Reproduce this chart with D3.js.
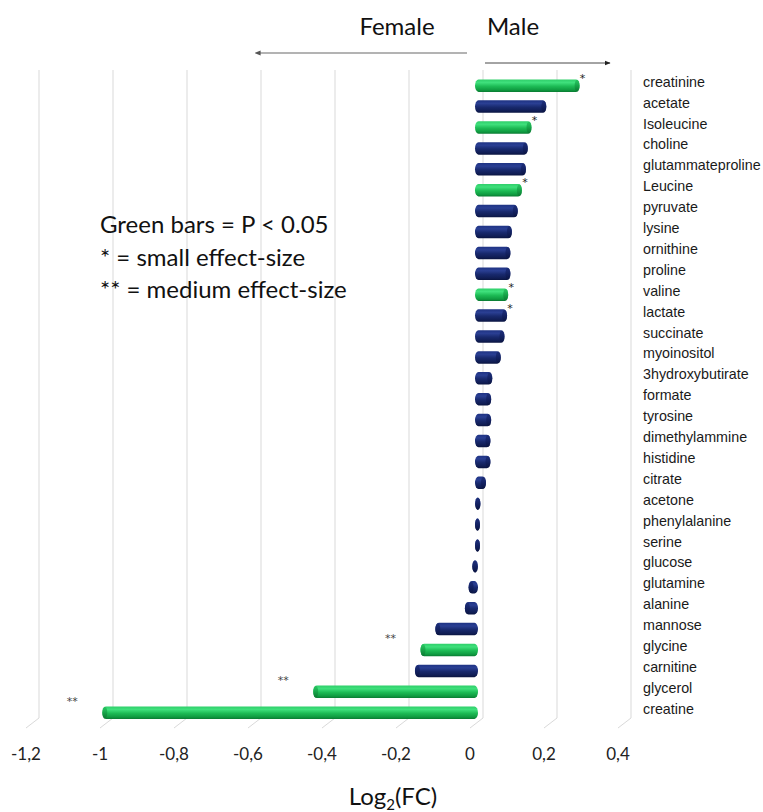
<!DOCTYPE html>
<html>
<head>
<meta charset="utf-8">
<script src="https://cdn.jsdelivr.net/npm/d3@7"></script>
<style>
  html, body { margin: 0; padding: 0; background: #fff; }
  svg { display: block; }
</style>
</head>
<body>
<svg id="chart" width="763" height="812"></svg>
<script>
// Metabolites, ordered from highest to lowest log2 fold change (male vs female)
const categories = [
  "creatinine", "acetate", "Isoleucine", "choline", "glutammateproline",
  "Leucine", "pyruvate", "lysine", "ornithine", "proline", "valine",
  "lactate", "succinate", "myoinositol", "3hydroxybutirate", "formate",
  "tyrosine", "dimethylammine", "histidine", "citrate", "acetone",
  "phenylalanine", "serine", "glucose", "glutamine", "alanine",
  "mannose", "glycine", "carnitine", "glycerol", "creatine"
];
const log2fc = [
  0.28, 0.19, 0.15, 0.14, 0.135,
  0.124, 0.113, 0.097, 0.093, 0.093, 0.087,
  0.084, 0.077, 0.067, 0.044, 0.041,
  0.041, 0.039, 0.039, 0.027, 0.012,
  0.006, 0.003, -0.01, -0.02, -0.03,
  -0.11, -0.15, -0.165, -0.44, -1.01
];
// P < 0.05
const significant = [
  "creatinine", "Isoleucine", "Leucine", "valine", "glycine", "glycerol", "creatine"
];
// Effect-size markers
const effectSize = [
  "*", "", "*", "", "",
  "*", "", "", "", "", "*",
  "*", "", "", "", "",
  "", "", "", "", "",
  "", "", "", "", "",
  "", "**", "", "**", "**"
];
const tickValues = [-1.2, -1, -0.8, -0.6, -0.4, -0.2, 0, 0.2, 0.4];
const legendLines = ["Green bars = P < 0.05", "* = small effect-size", "** = medium effect-size"];

const svg = d3.select("#chart");
const domain = [-1.2, 0.4];

// Three depth planes of the 3D chart: front edge (labels), bar plane, back wall (gridlines)
const xFront = d3.scaleLinear().domain(domain).range([26, 618]);
const xBar   = d3.scaleLinear().domain(domain).range([32, 624]);
const xBack  = d3.scaleLinear().domain(domain).range([39, 631]);
const y = d3.scalePoint().domain(categories).range([85.7, 712.7]);

const wallTop = 70, wallBottom = 718, floorFront = 728;

// Gradients for cylinder-like bars
const defs = svg.append("defs");
function cylinder(id, stops) {
  const g = defs.append("linearGradient").attr("id", id)
    .attr("x1", 0).attr("y1", 0).attr("x2", 0).attr("y2", 1);
  stops.forEach(([o, c]) => g.append("stop").attr("offset", o).attr("stop-color", c));
}
cylinder("gGreen", [[0, "#2fcf6a"], [0.25, "#3fe07c"], [0.55, "#1dbb55"], [0.85, "#0f9a40"], [1, "#0a7a32"]]);
cylinder("gNavy",  [[0, "#1f3384"], [0.25, "#2a3f93"], [0.55, "#18296d"], [0.85, "#101d54"], [1, "#0a1440"]]);
cylinder("gGreenCap", [[0, "#25c25e"], [0.5, "#159f45"], [1, "#0b7531"]]);
cylinder("gNavyCap",  [[0, "#1a2b74"], [0.5, "#122060"], [1, "#0a1440"]]);

// Back wall gridlines and floor diagonals
const grid = svg.append("g");
tickValues.forEach(t => {
  grid.append("line")
    .attr("x1", xBack(t)).attr("x2", xBack(t))
    .attr("y1", wallTop).attr("y2", wallBottom)
    .attr("stroke", "#d9d9d9").attr("stroke-width", 1);
  grid.append("line")
    .attr("x1", xBack(t)).attr("y1", wallBottom)
    .attr("x2", xFront(t)).attr("y2", floorFront)
    .attr("stroke", "#d9d9d9").attr("stroke-width", 1);
});

// Tick labels (decimal comma)
const fmt = v => (Math.round(v * 10) / 10).toString().replace(".", ",");
svg.append("g").selectAll("text").data(tickValues).join("text")
  .attr("x", d => xFront(d)).attr("y", 760)
  .attr("text-anchor", "middle")
  .attr("font-family", "Lato, 'Open Sans', sans-serif")
  .attr("font-size", 17).attr("fill", "#222")
  .text(fmt);

// Bars
const barH = 12.5;
const rows = categories.map((c, i) => ({
  name: c, v: log2fc[i], eff: effectSize[i], sig: significant.includes(c)
}));
const bars = svg.append("g");
rows.forEach(r => {
  const x0 = r.v >= 0 ? xBar(0) - 1 : xBar(r.v);
  let x1 = r.v >= 0 ? xBar(r.v) : xBar(0) + 2;
  if (x1 - x0 < 5) x1 = x0 + 5;
  const cy = y(r.name);
  bars.append("rect")
    .attr("x", x0).attr("y", cy - barH / 2)
    .attr("width", x1 - x0).attr("height", barH)
    .attr("rx", 3.5).attr("ry", barH / 2)
    .attr("fill", r.sig ? "url(#gGreen)" : "url(#gNavy)");
  // visible end face of the cylinder
  const capX = r.v >= 0 ? x1 - 2.5 : x0 + 2.5;
  bars.append("ellipse")
    .attr("cx", capX).attr("cy", cy)
    .attr("rx", 2.5).attr("ry", barH / 2 - 0.3)
    .attr("fill", r.sig ? "url(#gGreenCap)" : "url(#gNavyCap)")
    .attr("opacity", 0.85);
});

// Effect-size markers
svg.append("g").selectAll("text").data(rows.filter(r => r.eff)).join("text")
  .attr("x", r => r.v >= 0 ? xBar(r.v) + 3 : xBar(r.v) - 30)
  .attr("y", r => r.v >= 0 ? y(r.name) - 4 : y(r.name) - 8)
  .attr("text-anchor", "middle")
  .attr("font-family", "'DejaVu Sans', sans-serif")
  .attr("font-size", 11).attr("fill", r => r.v >= 0 ? "#222" : "#444")
  .text(r => r.eff);

// Category labels
svg.append("g").selectAll("text").data(categories).join("text")
  .attr("x", 643).attr("y", d => y(d) + 1)
  .attr("font-family", "'Liberation Sans', Arial, sans-serif")
  .attr("font-size", 14.3).attr("fill", "#1a1a1a")
  .text(d => d);

// Axis title Log2(FC)
const title = svg.append("text")
  .attr("x", 393).attr("y", 805)
  .attr("text-anchor", "middle")
  .attr("font-family", "Lato, 'Open Sans', sans-serif")
  .attr("font-size", 24).attr("fill", "#111");
title.append("tspan").text("Log");
title.append("tspan").attr("font-size", 15).attr("dy", 5).text("2");
title.append("tspan").attr("dy", -5).text("(FC)");

// Direction labels and arrows
svg.append("text").attr("x", 397).attr("y", 35).attr("text-anchor", "middle")
  .attr("font-family", "Lato, 'Open Sans', sans-serif").attr("font-size", 24)
  .attr("fill", "#111").text("Female");
svg.append("text").attr("x", 513).attr("y", 35).attr("text-anchor", "middle")
  .attr("font-family", "Lato, 'Open Sans', sans-serif").attr("font-size", 24)
  .attr("fill", "#111").text("Male");

defs.append("marker").attr("id", "headL").attr("viewBox", "0 0 10 10")
  .attr("refX", 1).attr("refY", 5).attr("markerWidth", 6).attr("markerHeight", 6)
  .attr("markerUnits", "userSpaceOnUse").attr("orient", "auto-start-reverse")
  .append("path").attr("d", "M0,1 L10,5 L0,9 Z").attr("fill", "#555");
defs.append("marker").attr("id", "headR").attr("viewBox", "0 0 10 10")
  .attr("refX", 9).attr("refY", 5).attr("markerWidth", 6).attr("markerHeight", 6)
  .attr("markerUnits", "userSpaceOnUse").attr("orient", "auto")
  .append("path").attr("d", "M0,1 L10,5 L0,9 Z").attr("fill", "#222");

svg.append("line").attr("x1", 467).attr("y1", 53).attr("x2", 260).attr("y2", 53)
  .attr("stroke", "#9a9a9a").attr("stroke-width", 1.4)
  .attr("marker-end", "url(#headL)");
svg.append("line").attr("x1", 485).attr("y1", 63).attr("x2", 610).attr("y2", 63)
  .attr("stroke", "#333").attr("stroke-width", 0.9)
  .attr("marker-end", "url(#headR)");

// Legend note
svg.append("g").selectAll("text").data(legendLines).join("text")
  .attr("x", 100).attr("y", (d, i) => 233 + i * 32.5)
  .attr("font-family", "Lato, 'Open Sans', sans-serif")
  .attr("font-size", 24).attr("fill", "#111")
  .text(d => d);
</script>
</body>
</html>
